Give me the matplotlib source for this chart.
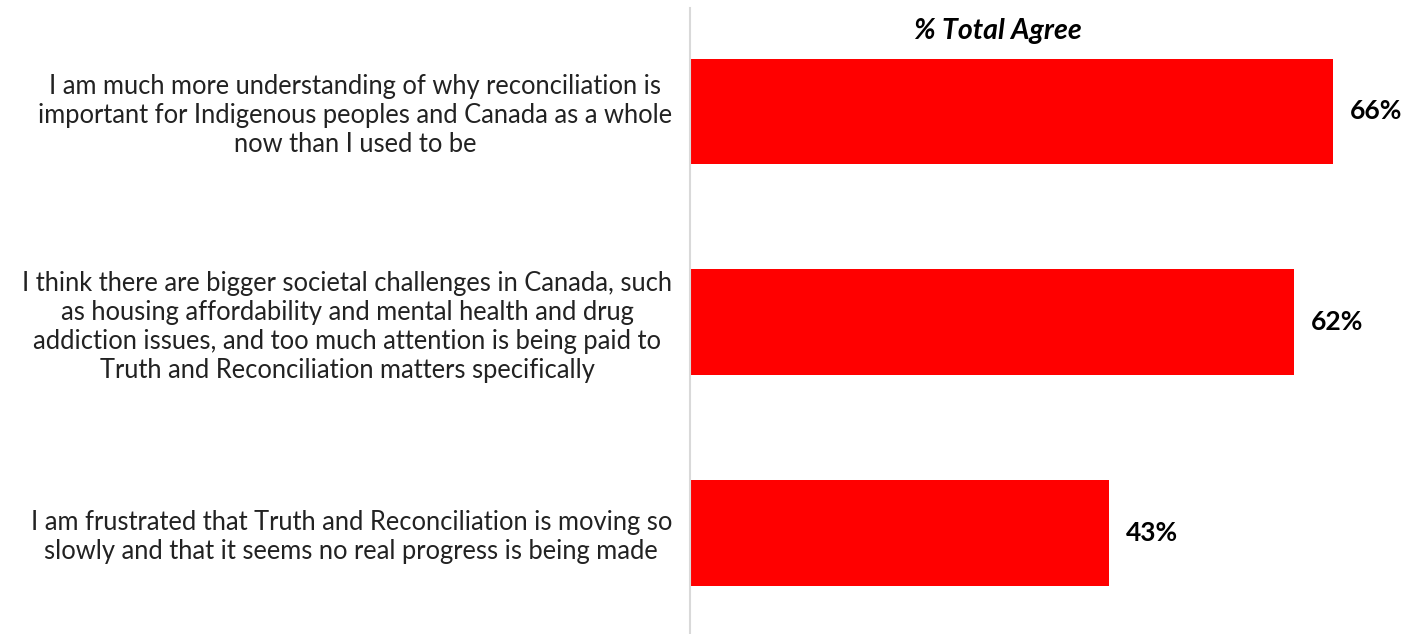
import matplotlib
matplotlib.use('Agg')
import matplotlib.pyplot as plt

statements = [
    'I am much more understanding of why reconciliation is\n'
    'important for Indigenous peoples and Canada as a whole\n'
    'now than I used to be',
    'I think there are bigger societal challenges in Canada, such\n'
    'as housing affordability and mental health and drug\n'
    'addiction issues, and too much attention is being paid to\n'
    'Truth and Reconciliation matters specifically',
    'I am frustrated that Truth and Reconciliation is moving so\n'
    'slowly and that it seems no real progress is being made',
]
total_agree = [66, 62, 43]
title = '% Total Agree'

plt.rcParams['font.family'] = ['Lato', 'DejaVu Sans']

fig = plt.figure(figsize=(14.08, 6.34), dpi=100)
ax = fig.add_axes([690 / 1408, 0, 711 / 1408, 626 / 634])

pos = list(range(len(total_agree)))
ax.barh(pos, total_agree, height=0.5, color='#ff0000')
ax.set_xlim(0, 73)
ax.set_ylim(2.48, -0.49)

for p, v in zip(pos, total_agree):
    ax.text(v + 1.75, p, f'{v}%', va='center', ha='left',
            fontsize=19, fontweight='bold')

ax.set_yticks(pos)
ax.set_yticklabels(statements, fontsize=18.4, color='#222222')
for lbl in ax.get_yticklabels():
    lbl.set_multialignment('center')
ax.tick_params(axis='y', length=0, pad=13)
ax.tick_params(axis='x', length=0, labelbottom=False)

# title sits over the bars, a bit left of centre
ax.text(0.433, 0.963, title, transform=ax.transAxes, ha='center', va='center',
        fontsize=20.5, fontweight='bold', fontstyle='italic')

for s in ['top', 'right', 'bottom']:
    ax.spines[s].set_visible(False)
ax.spines['left'].set_color('#d9d9d9')
ax.spines['left'].set_linewidth(1.5)

fig.savefig('out.png', dpi=100)
